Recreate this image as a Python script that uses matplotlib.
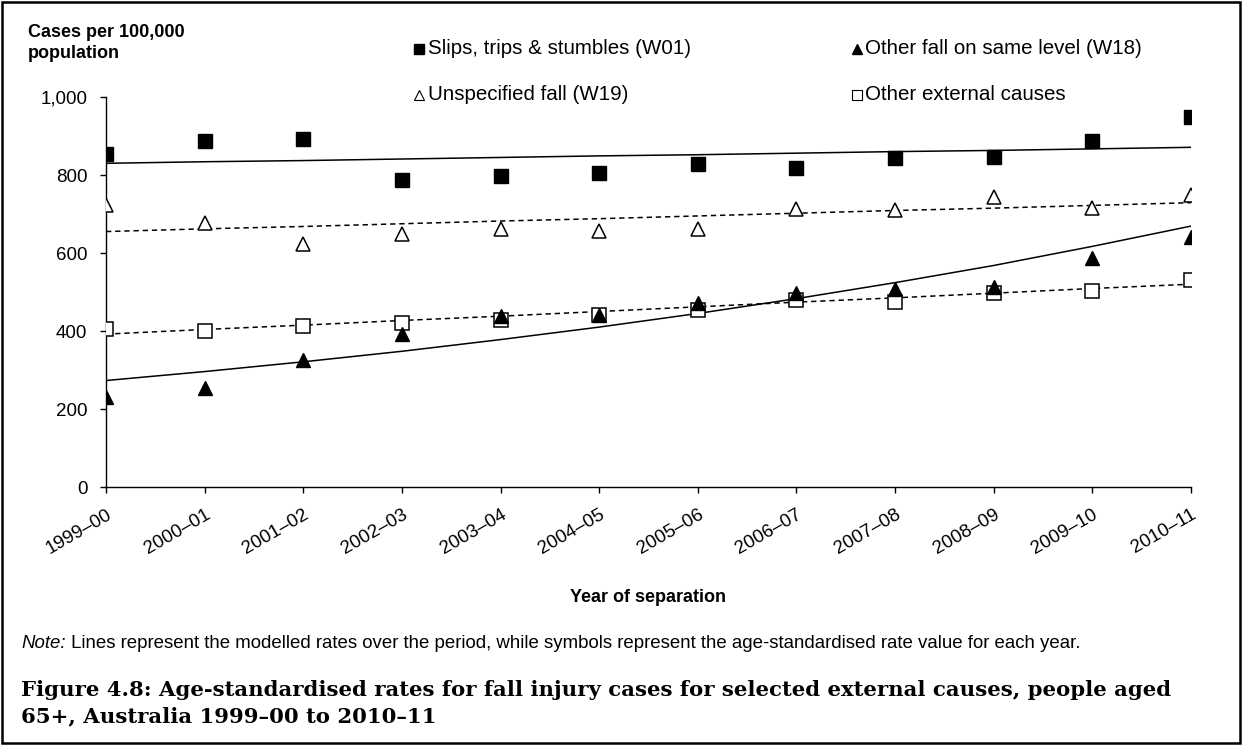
import matplotlib
matplotlib.use("Agg")
import matplotlib.pyplot as plt
from matplotlib.lines import Line2D
from matplotlib.patches import Rectangle

years = ["1999–00", "2000–01", "2001–02", "2002–03", "2003–04", "2004–05",
         "2005–06", "2006–07", "2007–08", "2008–09", "2009–10", "2010–11"]

slips = [855, 887, 892, 787, 797, 804, 827, 819, 843, 847, 888, 949]
other_same = [232, 253, 326, 392, 439, 441, 471, 497, 507, 514, 586, 640]
unspecified = [723, 676, 622, 648, 661, 657, 661, 713, 709, 744, 716, 750]
other_ext = [405, 400, 414, 420, 428, 441, 454, 479, 475, 497, 503, 531]

slips_model = [830, 834, 837, 841, 845, 849, 852, 856, 860, 863, 867, 871]
other_same_model = [273, 296, 321, 348, 378, 410, 445, 483, 524, 568, 617, 669]
unspecified_model = [655, 662, 668, 675, 682, 688, 695, 702, 709, 715, 722, 729]
other_ext_model = [392, 404, 415, 427, 438, 450, 462, 474, 485, 497, 509, 520]

legend_labels = ["Slips, trips & stumbles (W01)", "Other fall on same level (W18)",
                 "Unspecified fall (W19)", "Other external causes"]

note_italic = "Note:"
note_text = (" Lines represent the modelled rates over the period, while symbols represent the "
             "age-standardised rate value for each year.")
caption_lines = ["Figure 4.8: Age-standardised rates for fall injury cases for selected "
                 "external causes, people aged",
                 "65+, Australia 1999–00 to 2010–11"]

W, H = 1242, 745
plt.rcParams['font.family'] = ['Liberation Sans', 'DejaVu Sans']
fig = plt.figure(figsize=(W / 100, H / 100), dpi=100)


def fx(px):
    return px / W


def fy(py):
    return 1 - py / H


AX_L, AX_R, AX_T, AX_B = 106, 1191, 97, 487
ax = fig.add_axes([fx(AX_L), fy(AX_B), (AX_R - AX_L) / W, (AX_B - AX_T) / H])
x = list(range(len(years)))

lw = 1.1
dash = (0, (3.5, 2.5))
ax.plot(x, slips_model, color='black', lw=lw, zorder=2)
ax.plot(x, other_same_model, color='black', lw=lw, zorder=2)
ax.plot(x, unspecified_model, color='black', lw=lw, ls=dash, zorder=2)
ax.plot(x, other_ext_model, color='black', lw=lw, ls=dash, zorder=2)

ms = 10
ax.plot(x, slips, ls='none', marker='s', ms=ms, mfc='black', mec='black', zorder=3)
ax.plot(x, unspecified, ls='none', marker='^', ms=ms, mfc='white', mec='black', mew=1.1, zorder=3)
ax.plot(x, other_ext, ls='none', marker='s', ms=ms - 0.5, mfc='white', mec='black', mew=1.1, zorder=3)
ax.plot(x, other_same, ls='none', marker='^', ms=ms, mfc='black', mec='black', zorder=4)

ax.set_xlim(0, len(years) - 1)
ax.set_ylim(0, 1000)
ax.set_yticks([0, 200, 400, 600, 800, 1000])
ax.set_yticklabels(["0", "200", "400", "600", "800", "1,000"])
ax.set_xticks(x)
ax.set_xticklabels(years, rotation=30, ha='right', rotation_mode='anchor')
ax.tick_params(axis='both', direction='out', length=4.5, width=1, labelsize=13.5, colors='black')
ax.tick_params(axis='x', pad=9)
ax.tick_params(axis='y', pad=9)
for s in ['top', 'right']:
    ax.spines[s].set_visible(False)
for s in ['left', 'bottom']:
    ax.spines[s].set_linewidth(1)

# legend (2 x 2), placed manually
leg_fs = 14.8
leg_style = [
    dict(marker='s', mfc='black', mec='black'),
    dict(marker='^', mfc='black', mec='black'),
    dict(marker='^', mfc='white', mec='black', mew=0.8),
    dict(marker='s', mfc='white', mec='black', mew=0.8),
]
leg_pos = [(419, 428, 48), (857, 865, 48), (419, 428, 94), (857, 865, 94)]
for lab, st, (mx, tx, ty) in zip(legend_labels, leg_style, leg_pos):
    fig.add_artist(Line2D([fx(mx)], [fy(ty + 1)], ls='none', ms=7.5, transform=fig.transFigure, **st))
    fig.text(fx(tx), fy(ty), lab, fontsize=leg_fs, ha='left', va='center')

fig.text(fx(28), fy(43), "Cases per 100,000\npopulation", fontsize=13, fontweight='bold',
         ha='left', va='center', linespacing=1.25)

fig.text(fx((AX_L + AX_R) / 2), fy(598), "Year of separation", fontsize=13,
         fontweight='bold', ha='center', va='center')

# note line, fitted to width
fig.canvas.draw()
renderer = fig.canvas.get_renderer()
note_fs = 13
t1 = fig.text(fx(21), fy(643), note_italic, fontsize=note_fs, style='italic', ha='left', va='center')
t2 = ax.annotate(note_text, xy=(1, 0), xycoords=t1, fontsize=note_fs, ha='left', va='bottom',
                 annotation_clip=False)
fig.canvas.draw()
w_note = t2.get_window_extent(renderer).x1 - t1.get_window_extent(renderer).x0
note_fs = note_fs * (1082 - 21) / w_note
t1.set_fontsize(note_fs)
t2.set_fontsize(note_fs)

cap_fs = 16
cap_family = ['DejaVu Serif']
c1 = fig.text(fx(21), fy(690), caption_lines[0], fontsize=cap_fs, fontweight='bold',
              family=cap_family, ha='left', va='center')
fig.canvas.draw()
w_cap = c1.get_window_extent(renderer).width
cap_fs = cap_fs * (1167 - 21) / w_cap
c1.set_fontsize(cap_fs)
fig.text(fx(21), fy(716), caption_lines[1], fontsize=cap_fs, fontweight='bold',
         family=cap_family, ha='left', va='center')

fig.add_artist(Rectangle((fx(2), fy(743)), (W - 4) / W, 741 / H, transform=fig.transFigure,
                         fill=False, lw=1.8, ec='black'))

fig.savefig("out.png", dpi=100)
